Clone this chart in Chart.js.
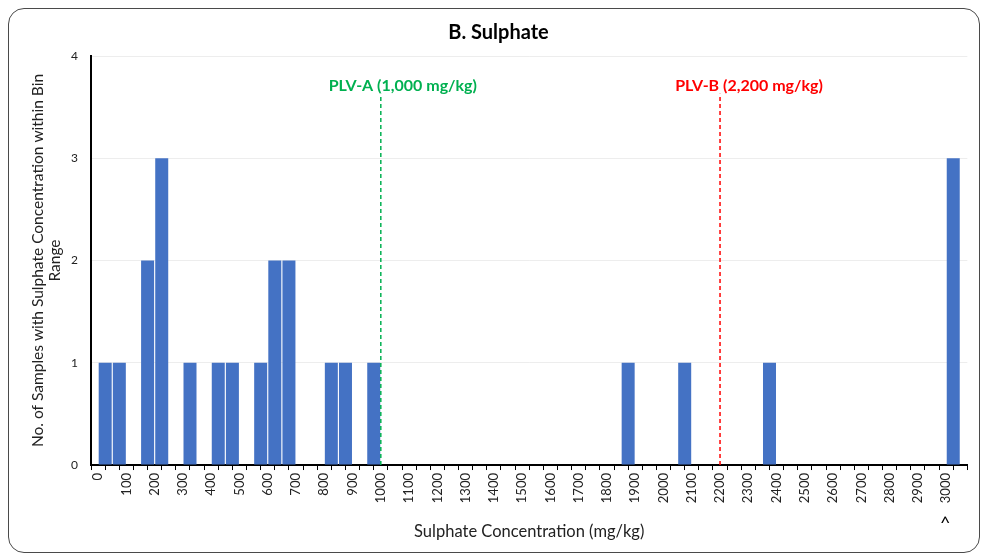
<!DOCTYPE html>
<html>
<head>
<meta charset="utf-8">
<script src="https://cdn.jsdelivr.net/npm/chart.js@4/dist/chart.umd.min.js"></script>
<style>
  html, body { margin: 0; padding: 0; background: #fff; }
  #card {
    position: absolute; left: 8px; top: 8px; width: 970px; height: 543px;
    border: 1.5px solid #4a4a4a; border-radius: 16px; overflow: hidden; background: #fff;
  }
  #chart { display: block; }
</style>
</head>
<body>
<div id="card"><canvas id="chart" width="970" height="543"></canvas></div>
<script>
// bin starts (mg/kg), bins 50 wide; last bin is ">3000"
var binStarts = [];
for (var b = 0; b <= 3000; b += 50) binStarts.push(b);

// number of samples in each bin
var counts = [
  1, 1, 0, 2, 3, 0, 1, 0, 1, 1,      // 0 - 450
  0, 1, 2, 2, 0, 0, 1, 1, 0, 1,      // 500 - 950
  0, 0, 0, 0, 0, 0, 0, 0, 0, 0,      // 1000 - 1450
  0, 0, 0, 0, 0, 0, 0, 1, 0, 0,      // 1500 - 1950
  0, 1, 0, 0, 0, 0, 0, 1, 0, 0,      // 2000 - 2450
  0, 0, 0, 0, 0, 0, 0, 0, 0, 0,      // 2500 - 2950
  3                                  // >3000
];

var plvA = 1000, plvB = 2200;
var plvTop = 3.63;
var plvALabel = 'PLV-A (1,000 mg/kg)';
var plvBLabel = 'PLV-B (2,200 mg/kg)';

var barData = binStarts.map(function(s, i) { return {x: s + 25, y: counts[i]}; });

var font = 'Lato, "Open Sans", sans-serif';

var extras = {
  id: 'extras',
  afterDraw: function(chart) {
    var ctx = chart.ctx;
    var xs = chart.scales.x, ys = chart.scales.y;
    ctx.save();
    ctx.font = 'bold 16px ' + font;
    ctx.textAlign = 'center';
    ctx.textBaseline = 'middle';
    ctx.fillStyle = '#00B050';
    ctx.fillText(plvALabel, xs.getPixelForValue(plvA) + 22, ys.getPixelForValue(3.71));
    ctx.fillStyle = '#FF0000';
    ctx.fillText(plvBLabel, xs.getPixelForValue(plvB) + 29, ys.getPixelForValue(3.71));
    // caret under the last bin label
    ctx.fillStyle = '#000';
    ctx.font = '18px ' + font;
    ctx.fillText('^', xs.getPixelForValue(3000) - 1, chart.chartArea.bottom + 58);
    ctx.restore();
  }
};

new Chart(document.getElementById('chart'), {
  type: 'bar',
  data: {
    datasets: [
      {
        type: 'line',
        data: [{x: plvA, y: 0}, {x: plvA, y: plvTop}],
        borderColor: '#00B050',
        borderWidth: 1.5,
        borderDash: [4, 3],
        pointRadius: 0,
        order: 0
      },
      {
        type: 'line',
        data: [{x: plvB, y: 0}, {x: plvB, y: plvTop}],
        borderColor: '#FF0000',
        borderWidth: 1.5,
        borderDash: [4, 3],
        pointRadius: 0,
        order: 0
      },
      {
        data: barData,
        backgroundColor: '#4472C4',
        borderWidth: 0,
        barPercentage: 0.92,
        categoryPercentage: 1,
        order: 1
      }
    ]
  },
  options: {
    responsive: false,
    animation: false,
    layout: { padding: { left: 20, right: 11, top: 0, bottom: 10 } },
    plugins: {
      legend: { display: false },
      tooltip: { enabled: false },
      title: {
        display: true,
        text: 'B. Sulphate',
        color: '#000',
        font: { family: font, size: 20, weight: 'bold' },
        padding: { top: 12, bottom: 11 }
      }
    },
    scales: {
      x: {
        type: 'linear',
        min: 0,
        max: 3050,
        grid: { drawOnChartArea: false, drawTicks: true, tickLength: 5, color: '#000', lineWidth: 1 },
        border: { color: '#000', width: 2 },
        ticks: {
          stepSize: 50,
          autoSkip: false,
          minRotation: 90,
          maxRotation: 90,
          color: '#222',
          font: { family: font, size: 13 },
          padding: 3,
          callback: function(v) { return (v % 100 === 0 && v <= 3000) ? String(v) : ''; }
        },
        title: {
          display: true,
          text: 'Sulphate Concentration (mg/kg)',
          color: '#222',
          font: { family: font, size: 16.5 },
          padding: { top: 16, bottom: 0 }
        }
      },
      y: {
        min: 0,
        max: 4,
        grid: { color: 'rgba(0,0,0,0.07)', drawTicks: false },
        border: { color: '#000', width: 2 },
        ticks: {
          stepSize: 1,
          color: '#222',
          font: { family: font, size: 12 },
          padding: 13
        },
        title: {
          display: true,
          text: ['No. of Samples with Sulphate Concentration within Bin', 'Range'],
          color: '#222',
          font: { family: font, size: 15.5, lineHeight: 1.1 },
          padding: { top: 0, bottom: -5 }
        }
      }
    }
  },
  plugins: [extras]
});
</script>
</body>
</html>
